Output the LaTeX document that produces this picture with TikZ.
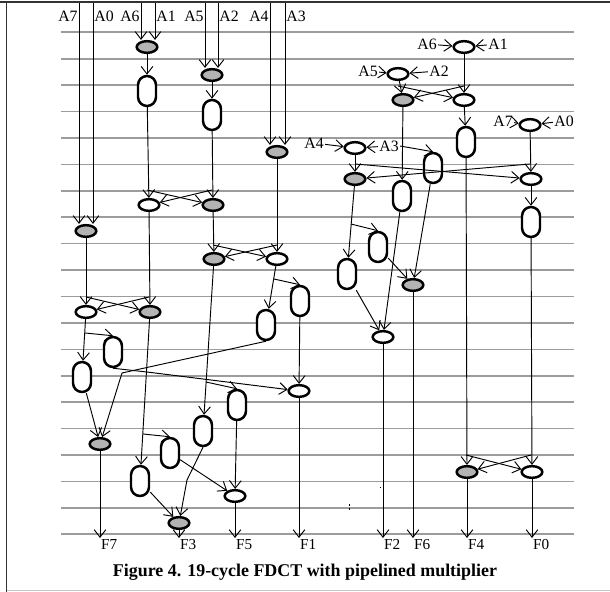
\documentclass[tikz,border=0pt]{standalone}
\usepackage{fontspec}
\setmainfont{Liberation Serif}
\usetikzlibrary{arrows.meta,shapes.geometric}
\definecolor{ink}{HTML}{000000}
\definecolor{rule}{HTML}{9C9C9C}
\definecolor{shade}{HTML}{B3B3B3}
\definecolor{frame}{HTML}{333333}
\tikzset{
  flow/.style={-{Straight Barb[length=6.5pt,width=10pt]}, line width=0.8pt, color=ink},
  add/.style={ellipse, draw=ink, fill=#1, line width=2.1pt, minimum width=0.62cm,
    minimum height=0.35cm, inner sep=0pt},
  add/.default=white,
  mul/.style={rectangle, rounded corners=0.27cm, draw=ink, fill=white, line width=2.1pt,
    minimum width=0.54cm, minimum height=0.9cm, inner sep=0pt},
  cyc/.style={rule, line width=1.4pt},
  lab/.style={font=\fontsize{13.5}{13.5}\selectfont, inner sep=1pt, text=ink},
  flab/.style={lab, font=\fontsize{13}{13}\selectfont, anchor=north west, inner sep=0.5pt},
  capt/.style={font=\bfseries\fontsize{15.3}{15.3}\selectfont, text=ink},
  speck/.style={fill=ink},
}

\begin{document}
\begin{tikzpicture}[x=0.03cm,y=-0.03cm]
  \useasboundingbox (0,0) rectangle (610,592);
  \draw[frame,line width=1.8pt] (0,2) -- (610,2);
  \draw[frame,line width=1.4pt] (6.5,2) -- (6.5,592);
  \draw[rule!60,line width=0.8pt] (6.5,590.5) -- (610,590.5);
  % clock cycles
  \foreach \k in {0,...,19} \draw[cyc] (61,{32.3+26.42*\k}) -- (574,{32.3+26.42*\k});

  % left half
  \node[add=shade] (g1) at (147,47) {};
  \node[mul] (c1) at (147,91) {};
  \node[add=shade] (g2) at (212,75) {};
  \node[mul] (c2) at (212,115) {};
  \node[add=shade] (g3) at (277,152) {};
  \node[add=shade] (g4) at (86,231) {};
  \node[add] (w1) at (149,205) {};
  \node[add=shade] (g5) at (213,205) {};
  \node[add=shade] (g6) at (214,259) {};
  \node[add] (w2) at (277,259) {};
  \node[add] (w3) at (86,312) {};
  \node[add=shade] (g7) at (150,312) {};
  \node[mul] (c3) at (266,325) {};
  \node[mul] (c4) at (300,301) {};
  \node[mul] (c5) at (203,431) {};
  \node[mul] (c6) at (237,405) {};
  \node[mul] (c7) at (82,377) {};
  \node[mul] (c8) at (113,352) {};
  \node[mul] (c9) at (140,481) {};
  \node[mul] (c10) at (170,453) {};
  \node[add=shade] (g8) at (100,444) {};
  \node[add] (w4) at (299,391) {};
  \node[add=shade] (g9) at (179,523) {};
  \node[add] (w5) at (235,496) {};

  % right half
  \node[add] (wr1) at (464,47) {};
  \node[add] (wr2) at (398,74) {};
  \node[add=shade] (gr1) at (403,100) {};
  \node[add] (wr3) at (464,100) {};
  \node[mul] (cr1) at (466,142) {};
  \node[add] (wr4) at (530,125) {};
  \node[add] (wr5) at (355,148) {};
  \node[mul] (cr2) at (433,168) {};
  \node[add=shade] (gr2) at (355,179) {};
  \node[add] (wr6) at (531,179) {};
  \node[mul] (cr3) at (402,196) {};
  \node[mul] (cr4) at (531,222) {};
  \node[mul] (cr5) at (347,274) {};
  \node[mul] (cr6) at (378,247) {};
  \node[add=shade] (gr3) at (413,285) {};
  \node[add] (wr7) at (383,337) {};
  \node[add=shade] (gr4) at (467,472) {};
  \node[add] (wr8) at (532,472) {};

  % inputs
  \foreach \lab/\x/\side/\dst in {A7/79/east/g4, A0/93/west/g4, A6/141/east/g1, A1/155/west/g1,
      A5/205/east/g2, A2/218/west/g2, A4/270/east/g3, A3/285/west/g3} {
    \coordinate (t\lab) at (\x,3);
    \node[lab,anchor=\side] (n\lab) at (\x,16) {\lab};
    \draw[flow] (t\lab) -- (t\lab |- \dst.north);
  }
  \node[lab] (rA6) at (427,44) {A6};
  \node[lab] (rA1) at (498,44) {A1};
  \node[lab] (rA5) at (368,71) {A5};
  \node[lab] (rA2) at (439,71) {A2};
  \node[lab] (rA7) at (503,121) {A7};
  \node[lab] (rA0) at (564,121) {A0};
  \node[lab] (rA4) at (314,143) {A4};
  \node[lab] (rA3) at (389,146) {A3};
  \foreach \s/\d in {rA6/wr1, rA1/wr1, rA5/wr2, rA2/wr2, rA7/wr4, rA0/wr4, rA4/wr5, rA3/wr5}
    \draw[flow] (\s) -- (\d);
  \draw[flow] (rA3.east) -- (cr2.north);

  % butterflies
  \foreach \sa/\sb/\ta/\tb/\y in {c1/c2/w1/g5/190, g5/g3/g6/w2/245, g4/w1/w3/g7/297,
      wr2/wr1/gr1/wr3/86, wr5/wr4/gr2/wr6/164, cr1/cr4/gr4/wr8/455} {
    \coordinate (lv) at (0,\y);
    \draw[flow] (\sa) -- (\ta);
    \draw[flow] (\sb) -- (\tb);
    \draw[flow] (\sa |- lv) -- (\tb);
    \draw[flow] (\sb |- lv) -- (\ta);
  }

  % branches and bends
  \coordinate (k1) at (274,279);
  \coordinate (k2) at (206,382);
  \coordinate (k3) at (85,333);
  \coordinate (k4) at (143,434);
  \coordinate (k5) at (122,373);
  \coordinate (k6) at (147,372);
  \coordinate (k7) at (187,480);
  \coordinate (k8) at (351,224);
  \draw[flow] (g1) -- (c1);
  \draw[flow] (g2) -- (c2);
  \draw[flow] (w2) -- (c3);
  \draw[flow] (k1) -- (c4.north);
  \draw[flow] (g6) -- (c5);
  \draw[flow] (k2) -- (c6.north);
  \draw[flow] (w3) -- (c7);
  \draw[flow] (k3) -- (c8.north);
  \draw[flow] (g7) -- (c9);
  \draw[flow] (k4) -- (c10.north);
  \draw[flow] (c7) -- (g8);
  \draw[flow] (c3.south) -- (k5) -- (g8);
  \draw[flow] (c8.south) -- (k6) -- (w4);
  \draw[flow] (c4) -- (w4);
  \draw[flow] (c9) -- (g9);
  \draw[flow] (c5.south) -- (k7) -- (g9);
  \draw[flow] (c10) -- (w5);
  \draw[flow] (c6) -- (w5);
  \draw[flow] (wr3) -- (cr1);
  \draw[flow] (gr1) -- (cr3);
  \draw[flow] (wr6) -- (cr4);
  \draw[flow] (gr2) -- (cr5);
  \draw[flow] (k8) -- (cr6.north);
  \draw[flow] (cr2) -- (gr3);
  \draw[flow] (cr6) -- (gr3);
  \draw[flow] (cr3) -- (wr7);
  \draw[flow] (cr5) -- (wr7);

  % outputs
  \coordinate (bot) at (0,538);
  \foreach \n/\t in {g8/F7, g9/F3, w5/F5, w4/F1, wr7/F2, gr3/F6, gr4/F4, wr8/F0}
    \draw[flow] (\n) -- (\n |- bot) node[flab] (\t) {\t};

  \fill[speck] (379.5,486.5) rectangle ++(1.5,1.5);
  \fill[speck] (348.5,504) rectangle ++(1.5,1.5);
  \fill[speck] (348.5,508) rectangle ++(1.5,1.5);

  \node[capt] (cap) at (305,572) {Figure 4. 19-cycle FDCT with pipelined multiplier};
\end{tikzpicture}
\end{document}
